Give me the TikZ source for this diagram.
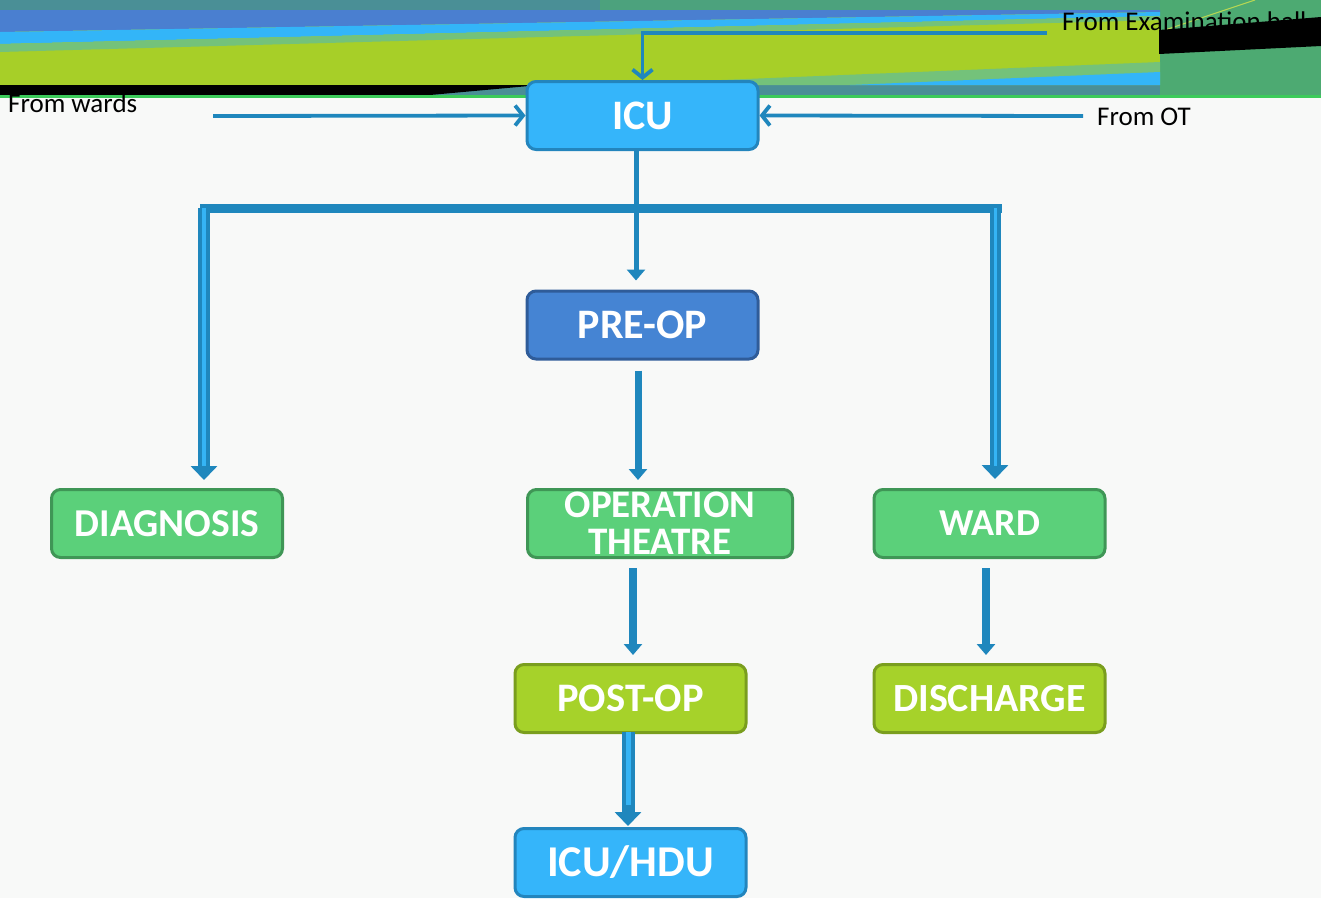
\documentclass[tikz,border=0pt]{standalone}
\usepackage{fontspec}
\setmainfont{Carlito}
\usetikzlibrary{arrows.meta,calc}
\definecolor{bgc}{HTML}{F8F9F8}
\definecolor{tealc}{HTML}{4A8F96}
\definecolor{greenbg}{HTML}{4DAA72}
\definecolor{blueb}{HTML}{4A7FD0}
\definecolor{cyanb}{HTML}{33B5F8}
\definecolor{ygreen}{HTML}{A7CF28}
\definecolor{mixc}{HTML}{74C27A}
\definecolor{gline}{HTML}{3CCB5A}
\definecolor{arrowc}{HTML}{1F87BD}
\definecolor{lightc}{HTML}{35B4F5}
\definecolor{icufill}{HTML}{35B5FA}
\definecolor{icudraw}{HTML}{2385BD}
\definecolor{prefill}{HTML}{4584D3}
\definecolor{predraw}{HTML}{2F5C99}
\definecolor{grfill}{HTML}{5BD07A}
\definecolor{grdraw}{HTML}{3F9656}
\definecolor{limefill}{HTML}{A6D22A}
\definecolor{limedraw}{HTML}{7A9E1E}
\newcommand{\bx}[1]{\bfseries\fontsize{#1}{#1}\selectfont}
\begin{document}
\begin{tikzpicture}[x=1pt,y=-1pt,
  box/.style={draw, line width=3pt, rounded corners=9pt, minimum width=231pt,
    minimum height=68pt, inner sep=0pt, text=white, align=center,
    font=\bx{39}},
  icubox/.style={box, fill=icufill, draw=icudraw},
  prebox/.style={box, fill=prefill, draw=predraw},
  grbox/.style={box, fill=grfill, draw=grdraw},
  limebox/.style={box, fill=limefill, draw=limedraw},
  lbl/.style={inner sep=0pt, text=black, font=\fontsize{27}{27}\selectfont},
  fromarrow/.style={draw=arrowc, line width=3.8pt, -{Straight Barb[length=8pt,width=20pt]}},
  solidarrow/.style={draw=arrowc, -{Triangle[length=11pt,width=18pt]}},
  dblarrow/.style={draw=arrowc, line width=#1, -{Triangle[length=14pt,width=26pt]},
    postaction={draw=lightc, line width=#1-8pt, -, shorten >=22pt}},
  barline/.style={draw=arrowc, line width=9pt}
]
\useasboundingbox (0,0) rectangle (1321,898);
\fill[bgc] (0,0) rectangle (1321,898);
% ---- banner ----
\fill[tealc] (0,0) rectangle (1160,97);
\fill[greenbg] (1160,0) rectangle (1321,97);
\fill[greenbg!70!tealc] (600,0) rectangle (1160,10);
\fill[ygreen] (0,10) rectangle (1160,85);
\fill[blueb] (0,10) -- (1160,10) -- (1160,12) -- (0,32) -- cycle;
\fill[cyanb] (0,32) -- (1160,12) -- (1160,16) -- (0,44) -- cycle;
\fill[mixc] (0,44) -- (1160,16) -- (1160,20) -- (0,52) -- cycle;
\fill[mixc] (600,85) -- (1160,62) -- (1160,85) -- cycle;
\fill[cyanb] (850,85) -- (1160,72) -- (1160,85) -- cycle;
\fill[black] (0,85) -- (540,85) -- (430,95) -- (0,95) -- cycle;
\fill[gline] (0,95) rectangle (1321,98);
\draw[ygreen!80!white, line width=1pt] (1165,30) -- (1255,0);
% labels
\node[lbl, anchor=west] (lex) at (1062,21) {From Examination hall};
\fill[black] (1159,30) -- (1321,17) -- (1321,46) -- (1240,50) -- (1159,54) -- cycle;
\node[lbl, anchor=west] (lw) at (8,103) {From wards};
\node[lbl, anchor=west] (lot) at (1097,117) {From OT};
% ---- nodes ----
\node[icubox, font=\bx{42}] (ICU) at (642.5,115.5) {ICU};
\node[prebox, font=\bx{42}] (PRE) at (642.5,325) {PRE-OP};
\node[grbox, font=\bx{39.5}] (DIAG) at (167,523.5) {DIAGNOSIS};
\node[grbox, minimum width=265pt, font=\bfseries\fontsize{39}{37}\selectfont] (OT) at (660,523.5) {OPERATION\\THEATRE};
\node[grbox, font=\bx{38}] (WARD) at (989.5,523.5) {WARD};
\node[limebox, font=\bx{40.5}] (POST) at (630.5,698.5) {POST-OP};
\node[limebox, font=\bx{40}] (DIS) at (989.5,698.5) {DISCHARGE};
\node[icubox, font=\bx{44}] (HDU) at (630.5,862.5) {ICU/HDU};
% ---- incoming arrows ----
\coordinate (fw) at (213,116);
\coordinate (fot) at (1083,116);
\coordinate (fe) at (1047,33);
\draw[fromarrow] (fw) -- (ICU.west);
\draw[fromarrow] (fot) -- (ICU.east);
\draw[fromarrow] (fe) -| (ICU.north);
% ---- branch bar ----
\coordinate (barL) at (200,208);
\coordinate (barR) at (1002,208);
\draw[barline] (barL) -- (barR);
\draw[dblarrow=12pt, shorten >=8pt] (204,203 |- barL) -- (204,0 |- DIAG.north);
\draw[dblarrow=11pt, shorten >=9pt] (995,203 |- barR) -- (995,0 |- WARD.north);
\draw[solidarrow, line width=5pt, shorten >=9pt] (636,0 |- ICU.south) -- (636,0 |- PRE.north);
% ---- chain ----
\draw[solidarrow, line width=7pt, shorten <=10pt, shorten >=8pt] (638,0 |- PRE.south) -- (638,0 |- OT.north);
\draw[solidarrow, line width=8pt, shorten <=9pt, shorten >=8pt] (633,0 |- OT.south) -- (633,0 |- POST.north);
\draw[solidarrow, line width=8pt, shorten <=9pt, shorten >=8pt] (986,0 |- WARD.south) -- (986,0 |- DIS.north);
\draw[dblarrow=13pt, shorten <=-2pt, shorten >=1pt] (628,0 |- POST.south) -- (628,0 |- HDU.north);
\end{tikzpicture}
\end{document}
